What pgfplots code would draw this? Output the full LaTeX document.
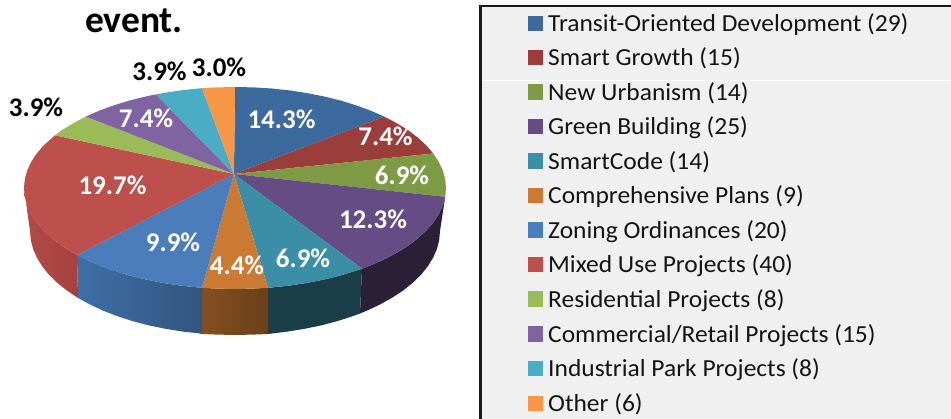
\documentclass[border=0pt]{standalone}
\usepackage{fontspec}
\setmainfont{Carlito}
\newfontfamily\legfont[FakeStretch=1.04]{Carlito}
\usepackage{pgfplots}
\pgfplotsset{compat=1.18}
\definecolor{cTransit}{HTML}{3D6A9C}
\definecolor{cSmart}{HTML}{9B3D3A}
\definecolor{cNew}{HTML}{7E9A45}
\definecolor{cGreen}{HTML}{664C85}
\definecolor{cCode}{HTML}{3A8FA6}
\definecolor{cComp}{HTML}{CB7A33}
\definecolor{cZone}{HTML}{4A7DBA}
\definecolor{cMixed}{HTML}{BD4F4C}
\definecolor{cRes}{HTML}{9BBB59}
\definecolor{cComm}{HTML}{8064A2}
\definecolor{cInd}{HTML}{4BACC6}
\definecolor{cOther}{HTML}{F79646}
\definecolor{sGreen}{HTML}{2B2038}
\definecolor{sCode}{HTML}{1B3D48}
\definecolor{sCompL}{HTML}{85501F}
\definecolor{sCompR}{HTML}{6A3F1B}
\definecolor{sZoneL}{HTML}{3F6FA6}
\definecolor{sZoneR}{HTML}{33557F}
\definecolor{sMixL}{HTML}{B04C49}
\definecolor{sMixR}{HTML}{A6403E}
\newcommand{\leg}[3]{%
  \addplot[only marks,color=#3,mark=square*,mark size=7.2pt,mark options={solid,draw=#3,fill=#3,line width=0pt}] coordinates {(535.5,#1-7.5)};
  \node[anchor=base west,inner sep=0pt,text=black!92] at (axis cs:548,#1+0.8) {\legfont\fontsize{24.5}{27}\selectfont #2};}
\newcommand{\plab}[3]{\node[anchor=base,inner sep=0pt,text=white] at (axis cs:#1,#2+0.6) {\fontsize{27}{29}\selectfont\bfseries #3};}
\newcommand{\blab}[3]{\node[anchor=base,inner sep=0pt,text=black] at (axis cs:#1,#2+0.6) {\fontsize{27}{29}\selectfont\bfseries #3};}
\begin{document}
\begin{tikzpicture}
\useasboundingbox (0,0) rectangle (951pt,419pt);
\begin{axis}[hide axis,scale only axis,width=951pt,height=419pt,xmin=0,xmax=951,ymin=0,ymax=419,y dir=reverse,clip=false]
% legend panel
\addplot[draw=none,fill=black!6,mark=none] coordinates {(481,6) (951,6) (951,419) (481,419) (481,6)};
\addplot[white,line width=1pt,mark=none] coordinates {(481,81) (951,81)};
\addplot[black!90,line width=2.4pt,mark=none] coordinates {(480.5,419) (480.5,6) (951,6)};
% side faces
\addplot[draw=none,fill=sGreen,mark=none] coordinates {(445.2,196.8) (442.8,205.5) (438.8,214.1) (433.3,222.5) (426.2,230.7) (417.7,238.5) (407.8,246) (396.6,252.9) (384.2,259.4) (370.6,265.4) (362,268.7) (360,313.5) (366.8,310.7) (380,304.5) (392,297.8) (402.9,290.7) (412.5,283) (420.8,275) (427.6,266.6) (433,257.9) (436.9,249.1) (439.2,240.1) (440,231) (445.2,196.8)};
\addplot[draw=none,fill=sCode,mark=none] coordinates {(362,268.7) (356,270.7) (340.5,275.5) (324.2,279.5) (307.2,282.9) (289.6,285.6) (271.6,287.5) (268,287.8) (268,334) (288.1,331.5) (305.1,328.7) (321.6,325.3) (337.5,321.1) (352.6,316.2) (360,313.5) (362,268.7)};
\addplot[draw=none,left color=sCompL,right color=sCompR,mark=none] coordinates {(268,287.8) (253.4,288.6) (235,289) (216.6,288.6) (202,287.8) (202,334) (217.1,334.6) (235,335) (252.9,334.6) (268,334) (268,287.8)};
\addplot[draw=none,left color=sZoneL,right color=sZoneR,mark=none] coordinates {(202,287.8) (198.4,287.5) (180.4,285.6) (162.8,282.9) (145.8,279.5) (129.5,275.5) (114,270.7) (99.4,265.4) (85.8,259.4) (77,255) (78,298) (90,304.5) (103.2,310.7) (117.4,316.2) (132.5,321.1) (148.4,325.3) (164.9,328.7) (181.9,331.5) (199.4,333.4) (202,334) (202,287.8)};
\addplot[draw=none,left color=sMixL,right color=sMixR,mark=none] coordinates {(77,255) (73.4,252.9) (62.2,246) (52.3,238.5) (43.8,230.7) (36.7,222.5) (31.2,214.1) (27.2,205.5) (24.8,196.8) (24,188) (30,231) (30.8,240.1) (33.1,249.1) (37,257.9) (42.4,266.6) (49.2,275) (57.5,283) (67.1,290.7) (78,298) (77,255)};
% top faces
\addplot[draw=none,fill=cTransit,mark=none] coordinates {(234,174) (235,87) (253.4,87.4) (271.6,88.5) (289.6,90.4) (307.2,93.1) (324.2,96.5) (340.5,100.5) (356,105.3) (370.6,110.6) (384.2,116.6) (234,174)};
\addplot[draw=none,fill=cSmart,mark=none] coordinates {(234,174) (384.2,116.6) (396.6,123.1) (407.8,130) (417.7,137.5) (426.2,145.3) (433.3,153.5) (234,174)};
\addplot[draw=none,fill=cNew,mark=none] coordinates {(234,174) (433.3,153.5) (438.8,161.9) (442.8,170.5) (445.2,179.2) (446,188) (445.2,196.8) (234,174)};
\addplot[draw=none,fill=cGreen,mark=none] coordinates {(234,174) (445.2,196.8) (442.8,205.5) (438.8,214.1) (433.3,222.5) (426.2,230.7) (417.7,238.5) (407.8,246) (396.6,252.9) (384.2,259.4) (370.6,265.4) (362,268.7) (234,174)};
\addplot[draw=none,fill=cCode,mark=none] coordinates {(234,174) (362,268.7) (356,270.7) (340.5,275.5) (324.2,279.5) (307.2,282.9) (289.6,285.6) (271.6,287.5) (268,287.8) (234,174)};
\addplot[draw=none,fill=cComp,mark=none] coordinates {(234,174) (268,287.8) (253.4,288.6) (235,289) (216.6,288.6) (202,287.8) (234,174)};
\addplot[draw=none,fill=cZone,mark=none] coordinates {(234,174) (202,287.8) (198.4,287.5) (180.4,285.6) (162.8,282.9) (145.8,279.5) (129.5,275.5) (114,270.7) (99.4,265.4) (85.8,259.4) (77,255) (234,174)};
\addplot[draw=none,fill=cMixed,mark=none] coordinates {(234,174) (77,255) (73.4,252.9) (62.2,246) (52.3,238.5) (43.8,230.7) (36.7,222.5) (31.2,214.1) (27.2,205.5) (24.8,196.8) (24,188) (24.8,179.2) (27.2,170.5) (31.2,161.9) (36.7,153.5) (43.8,145.3) (55,135.3) (234,174)};
\addplot[draw=none,fill=cRes,mark=none] coordinates {(234,174) (55,135.3) (62.2,130) (73.4,123.1) (85.8,116.6) (234,174)};
\addplot[draw=none,fill=cComm,mark=none] coordinates {(234,174) (85.8,116.6) (99.4,110.6) (114,105.3) (129.5,100.5) (145.8,96.5) (155.9,94.4) (234,174)};
\addplot[draw=none,fill=cInd,mark=none] coordinates {(234,174) (155.9,94.4) (162.8,93.1) (180.4,90.4) (198.4,88.5) (202,88.2) (234,174)};
\addplot[draw=none,fill=cOther,mark=none] coordinates {(234,174) (202,88.2) (216.6,87.4) (235,87) (234,174)};
% title
\node[anchor=base,inner sep=0pt] at (axis cs:134,33) {\fontsize{37.5}{40}\selectfont\bfseries event.};
% pie labels
\plab{281.5}{127.7}{14.3\%}
\plab{385.5}{145}{7.4\%}
\plab{402}{184}{6.9\%}
\plab{373}{227.7}{12.3\%}
\plab{303}{266.7}{6.9\%}
\plab{237}{274}{4.4\%}
\plab{173}{251}{9.9\%}
\plab{112.5}{194}{19.7\%}
\plab{146}{126.7}{7.4\%}
\blab{36}{115.7}{3.9\%}
\blab{159.5}{80}{3.9\%}
\blab{219}{76}{3.0\%}
% legend
\leg{31}{Transit-Oriented Development (29)}{cTransit}
\leg{65}{Smart Growth (15)}{cSmart}
\leg{99.5}{New Urbanism (14)}{cNew}
\leg{134}{Green Building (25)}{cGreen}
\leg{168.5}{SmartCode (14)}{cCode}
\leg{203}{Comprehensive Plans (9)}{cComp}
\leg{237.5}{Zoning Ordinances (20)}{cZone}
\leg{272}{Mixed Use Projects (40)}{cMixed}
\leg{306.7}{Residential Projects (8)}{cRes}
\leg{341.5}{Commercial/Retail Projects (15)}{cComm}
\leg{376}{Industrial Park Projects (8)}{cInd}
\leg{411}{Other (6)}{cOther}
\end{axis}
\end{tikzpicture}
\end{document}
